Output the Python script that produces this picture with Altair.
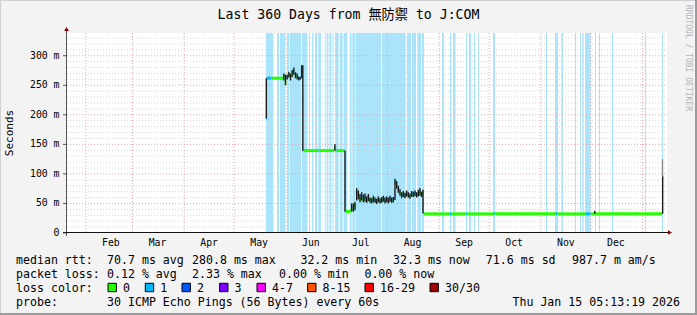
import altair as alt
import pandas as pd

# ---------------------------------------------------------------- data
# time: days since 2025-01-01 00:00 (UTC); latency values in ms
band_start = [139.1, 145.7, 147.5, 151.7, 153.5, 160.7, 164.9, 166.7, 168.5, 170.5,
              174.3, 175.5, 177.1, 178.9, 180.7, 183.3, 185.7, 189.5, 190.9, 192.9,
              208.7, 223.7, 226.7, 229.9, 232.7, 244.7, 249.5, 251.3, 259.1, 260.9,
              263.9, 266.3, 275.3, 307.1, 312.5, 316.3, 324.5, 327.5, 328.9, 330.5,
              336.5, 338.9, 346.7, 366.5, 376.7]
band_end = [143.5, 146.9, 150.5, 153.1, 160.1, 163.9, 165.5, 167.5, 169.9, 172.1,
            174.9, 176.5, 178.1, 179.5, 182.7, 185.1, 187.9, 190.5, 192.5, 208.1,
            222.9, 226.1, 229.1, 232.1, 233.9, 245.9, 250.3, 252.8, 259.9, 262.1,
            264.5, 266.9, 276.5, 307.7, 314.3, 317.3, 325.1, 328.1, 329.7, 333.9,
            337.1, 339.5, 347.3, 367.1, 377.3]

seg_day = [139.0, 139.6, 142.3, 149.3, 150.3, 151.3, 152.3, 153.3, 154.3, 155.3,
           156.3, 157.3, 158.3, 159.3, 160.1, 160.9, 161.5, 169.9, 170.7, 180.1,
           180.8, 181.5, 182.1, 186.2, 186.8, 189.9,
           191, 192, 193, 194, 195, 196, 197, 198, 199, 200,
           201, 202, 203, 204, 205, 206, 207, 208, 209, 210,
           211, 212, 213, 214, 215, 216, 217, 218, 219, 220,
           221, 222, 223, 224, 225, 226, 227, 228, 229, 230,
           231, 232, 233,
           233.6, 249.4, 250.2, 259.3, 259.9, 275.3, 276.3, 312.8, 313.8, 330.7,
           333.9, 336.0, 336.6, 376.7]
seg_med = [194, 262, 262, 266, 256, 264, 268, 265, 270, 274,
           268, 265, 262, 262, 270, 225, 139.5, 139.5, 139.5, 144,
           139.5, 139.5, 139.5, 68, 36.5, 40,
           42, 47, 68, 64, 58, 62, 57, 60, 55, 61,
           56, 54, 58, 55, 53, 57, 54, 56, 58, 55,
           57, 54, 58, 55, 57, 86, 82, 74, 68, 64,
           66, 63, 67, 64, 62, 66, 65, 67, 64, 66,
           68, 65, 67,
           32.4, 32.4, 32.4, 32.4, 32.4, 32.4, 32.4, 32.4, 32.4, 32.4,
           32.4, 33.0, 32.4, 95.6]
seg_lo = [194, 262, 262, 258, 250, 260, 263, 258, 264, 268,
          262, 260, 258, 260, 262, 139, 139.5, 139.5, 139.5, 139,
          139.5, 139.5, 139.5, 36, 36.5, 36,
          36, 38, 55, 57, 52, 55, 52, 53, 51, 54,
          51, 50, 52, 51, 49, 52, 50, 51, 53, 50,
          52, 50, 53, 51, 52, 56, 75, 68, 63, 59,
          61, 59, 62, 60, 58, 61, 61, 62, 60, 62,
          63, 61, 33,
          32.4, 32.4, 32.4, 32.4, 32.4, 32.4, 32.4, 32.4, 32.4, 32.4,
          32.4, 32.4, 32.4, 32.4]
seg_hi = [262, 262, 262, 270, 268, 268, 273, 270, 276, 280,
          272, 270, 265, 264, 284, 284, 139.5, 139.5, 139.5, 150,
          139.5, 139.5, 139.5, 139.5, 36.5, 50,
          50, 53, 76, 72, 66, 69, 65, 67, 62, 66,
          60, 59, 63, 60, 58, 62, 59, 61, 63, 60,
          62, 60, 63, 60, 61, 92, 88, 80, 74, 69,
          71, 68, 72, 69, 67, 71, 70, 72, 69, 73,
          76, 70, 73,
          32.4, 32.4, 32.4, 32.4, 32.4, 32.4, 32.4, 32.4, 32.4, 32.4,
          32.4, 37.6, 32.4, 95.6]
seg_loss = ["1", "1", "0", "0", "0", "1", "0", "1", "0", "1",
            "0", "0", "1", "1", "0", "1", "0", "1", "0", "0",
            "0", "1", "0", "1", "0", "0",
            "1", "0", "0", "1", "0", "1", "0", "1", "0", "1",
            "0", "1", "0", "1", "0", "1", "0", "1", "0", "1",
            "0", "1", "1", "0", "1", "1", "0", "1", "0", "1",
            "0", "1", "0", "1", "0", "1", "0", "1", "0", "1",
            "0", "1", "0",
            "0", "1", "0", "1", "0", "1", "0", "1", "0", "1",
            "0", "0", "0", "1"]
data_end = 377.5

spike_day = [376.7]
spike_lo = [95.6]
spike_hi = [125.0]

month_names = ["Feb", "Mar", "Apr", "May", "Jun", "Jul", "Aug", "Sep", "Oct", "Nov", "Dec"]
month_label_day = [46, 74, 105, 135, 166, 196, 227, 258, 288, 319, 349]
month_start_day = [31, 59, 90, 120, 151, 181, 212, 243, 273, 304, 334, 365]

y_ticks = [0, 50, 100, 150, 200, 250, 300]
y_tick_labels = ["0\u00a0\u00a0", "50 m", "100 m", "150 m", "200 m", "250 m", "300 m"]

loss_labels = ["0", "1", "2", "3", "4-7", "8-15", "16-29", "30/30"]
loss_colors = ["#26ff00", "#00b8ff", "#0059ff", "#7e00ff", "#ff00ff", "#ff5500", "#ff0000", "#a10000"]

title_text = "Last 360 Days from 無防禦 to J:COM"
rtt_items = ["median rtt:", "70.7 ms avg", "280.8 ms max", "32.2 ms min", "32.3 ms now",
             "71.6 ms sd", "987.7 m am/s"]
loss_items = ["packet loss:", "0.12 % avg", "2.33 % max", "0.00 % min", "0.00 % now"]
probe_items = ["probe:", "30 ICMP Echo Pings (56 Bytes) every 60s"]
date_text = "Thu Jan 15 05:13:19 2026"

# ---------------------------------------------------------------- layout / style
MONO = "DejaVu Sans Mono"
W, H = 600, 200
OX, OY = 67, 33
BAND = "#a8e4fb"
RED_GRID = "#eaa4a4"
GREY_GRID = "#d4d4d4"
DAY0 = pd.Timestamp("2025-01-01")


def to_ms(days):
    return [(DAY0 + pd.to_timedelta(d, unit="D")).value / 1e6 for d in days]


xs = alt.Scale(type="utc", domain=to_ms([19.7, 379.7]))
ys = alt.Scale(domain=[0, 338.5], nice=False, zero=False)
one = pd.DataFrame({"a": [0]})

band_df = pd.DataFrame({"s": to_ms(band_start), "e": to_ms(band_end)})
seg_end = seg_day[1:] + [data_end]
seg_df = pd.DataFrame({
    "s": to_ms(seg_day), "e": to_ms(seg_end),
    "c": to_ms([(a + b) / 2 for a, b in zip(seg_day, seg_end)]),
    "med": seg_med, "lo": seg_lo, "hi": seg_hi, "loss": seg_loss,
})
smoke_df = seg_df[seg_df["hi"] > seg_df["lo"]]
spike_df = pd.DataFrame({"c": to_ms([d + 0.3 for d in spike_day]), "lo": spike_lo, "hi": spike_hi})

layers = []
layers.append(alt.Chart(band_df).mark_rect(color=BAND).encode(
    x=alt.X("s:T", scale=xs, axis=None), x2="e:T", y=alt.value(0), y2=alt.value(H)))

minor_vals = [v for v in range(10, 340, 10) if v % 50]
layers.append(alt.Chart(pd.DataFrame({"v": minor_vals})).mark_rule(
    color=GREY_GRID, strokeDash=[1, 2]).encode(
    y=alt.Y("v:Q", scale=ys, axis=None), x=alt.value(0), x2=alt.value(W)))
layers.append(alt.Chart(pd.DataFrame({"v": y_ticks[1:]})).mark_rule(
    color=RED_GRID, strokeDash=[1, 2]).encode(
    y=alt.Y("v:Q", scale=ys, axis=None), x=alt.value(0), x2=alt.value(W)))
layers.append(alt.Chart(pd.DataFrame({"t": to_ms(month_start_day)})).mark_rule(
    color=RED_GRID, strokeDash=[1, 2]).encode(
    x=alt.X("t:T", scale=xs, axis=None), y=alt.value(0), y2=alt.value(H)))

layers.append(alt.Chart(seg_df).mark_rule(strokeWidth=3).encode(
    x=alt.X("s:T", scale=xs, axis=None), x2="e:T",
    y=alt.Y("med:Q", scale=ys, axis=None),
    color=alt.Color("loss:N", scale=alt.Scale(domain=loss_labels, range=loss_colors), legend=None)))
layers.append(alt.Chart(smoke_df).mark_rule(strokeWidth=1.4, color="#1c1c1c").encode(
    x=alt.X("c:T", scale=xs, axis=None), y=alt.Y("lo:Q", scale=ys, axis=None), y2="hi:Q"))
layers.append(alt.Chart(spike_df).mark_rule(strokeWidth=1.4, color="#8a8a8a").encode(
    x=alt.X("c:T", scale=xs, axis=None), y=alt.Y("lo:Q", scale=ys, axis=None), y2="hi:Q"))

# axes
layers.append(alt.Chart(one).mark_rule(color="#555555").encode(
    x=alt.value(-0.5), y=alt.value(-4), y2=alt.value(H + 3)))
layers.append(alt.Chart(one).mark_rule(color="#111111").encode(
    x=alt.value(-4), x2=alt.value(W + 2), y=alt.value(H - 0.5)))
layers.append(alt.Chart(pd.DataFrame({"v": y_ticks})).mark_rule(color="#555555").encode(
    x=alt.value(-4), x2=alt.value(-1), y=alt.Y("v:Q", scale=ys, axis=None)))
layers.append(alt.Chart(one).mark_point(shape="triangle-up", filled=True, color="#7f0000",
                                        size=22, opacity=1).encode(
    x=alt.value(-0.5), y=alt.value(-4)))
layers.append(alt.Chart(one).mark_point(shape="triangle-right", filled=True, color="#7f0000",
                                        size=22, opacity=1).encode(
    x=alt.value(W + 3), y=alt.value(H - 0.5)))

layers.append(alt.Chart(pd.DataFrame({"v": y_ticks, "lab": y_tick_labels})).mark_text(
    font=MONO, fontSize=9.8, align="right", baseline="middle", color="black").encode(
    x=alt.value(-7.5), y=alt.Y("v:Q", scale=ys, axis=None), text="lab:N"))
layers.append(alt.Chart(pd.DataFrame({"t": to_ms(month_label_day), "n": month_names})).mark_text(
    font=MONO, fontSize=9.8, align="center", baseline="middle", color="black").encode(
    x=alt.X("t:T", scale=xs, axis=None), y=alt.value(243.3 - OY), text="n:N"))


def label(text, x, y, size=11.6, align="left", angle=0, color="black", baseline="alphabetic",
          font=MONO):
    return alt.Chart(one).mark_text(text=text, font=font, fontSize=size, align=align,
                                    angle=angle, color=color, baseline=baseline).encode(
        x=alt.value(x - OX), y=alt.value(y - OY))


layers.append(label(title_text, 348.5, 18.5, size=13.2, align="center",
                    font="DejaVu Sans Mono, Noto Sans CJK JP"))
layers.append(label("Seconds", 10, 133, size=11, align="center", angle=270, baseline="middle"))
layers.append(label("RRDTOOL / TOBI OETIKER", 688, 5, size=8, angle=90, color="#b4b4b4",
                    baseline="middle"))

rtt_x = [16, 107, 192, 300.4, 393, 485.8, 572]
for t, x in zip(rtt_items, rtt_x):
    layers.append(label(t, x, 263.5))
loss_x = [16, 107, 192, 279, 364.4]
for t, x in zip(loss_items, loss_x):
    layers.append(label(t, x, 277.5))
layers.append(label("loss color:", 16, 291.5))
box_x = [108, 145.3, 182, 219.6, 257, 307.6, 365, 430]
for lab, col, bx in zip(loss_labels, loss_colors, box_x):
    layers.append(alt.Chart(one).mark_rect(fill=col, stroke="black", strokeWidth=1).encode(
        x=alt.value(bx - OX), x2=alt.value(bx + 8.4 - OX),
        y=alt.value(283.3 - OY), y2=alt.value(291.7 - OY)))
    layers.append(label(lab, bx + 15, 291.5))
for t, x in zip(probe_items, [16, 107]):
    layers.append(label(t, x, 305.5))
layers.append(label(date_text, 680, 305.5, align="right"))

# canvas frame shading
layers.append(alt.Chart(one).mark_rule(color="#d0d0d0", strokeWidth=1).encode(
    x=alt.value(-OX), x2=alt.value(697 - OX), y=alt.value(0.5 - OY)))
layers.append(alt.Chart(one).mark_rule(color="#d0d0d0", strokeWidth=1).encode(
    x=alt.value(0.5 - OX), y=alt.value(-OY), y2=alt.value(315 - OY)))
layers.append(alt.Chart(one).mark_rule(color="#9c9c9c", strokeWidth=2).encode(
    x=alt.value(696 - OX), y=alt.value(-OY), y2=alt.value(315 - OY)))
layers.append(alt.Chart(one).mark_rule(color="#9c9c9c", strokeWidth=2).encode(
    x=alt.value(-OX), x2=alt.value(697 - OX), y=alt.value(314 - OY)))

chart = alt.layer(*layers).properties(
    width=W, height=H,
    autosize=alt.AutoSizeParams(type="none"),
    padding={"left": OX, "top": OY, "right": 697 - OX - W, "bottom": 315 - OY - H},
    background="#f3f3f3",
).configure_view(stroke=None, fill="white")

chart.save("out.html", embed_options={"renderer": "svg", "actions": False})
